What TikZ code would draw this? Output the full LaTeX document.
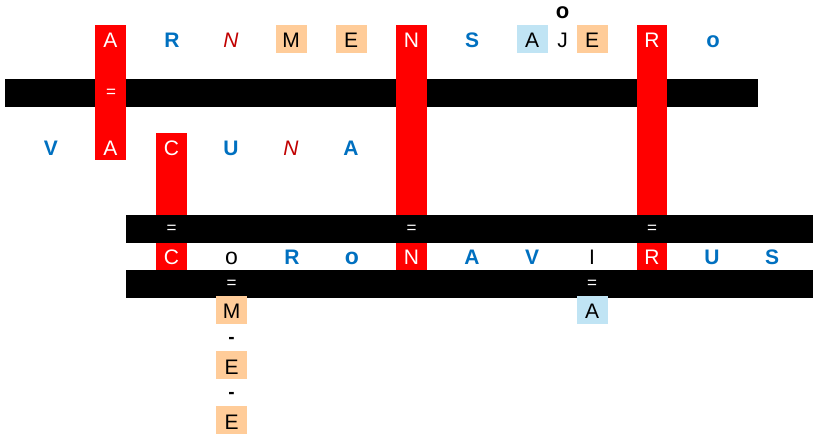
\documentclass[tikz,border=0pt]{standalone}
\usepackage{fontspec}
\setmainfont{Liberation Sans}
\definecolor{cellred}{RGB}{255,0,0}
\definecolor{letterblue}{RGB}{0,112,192}
\definecolor{letterdark}{RGB}{192,0,0}
\definecolor{peach}{RGB}{255,204,153}
\definecolor{paleblue}{RGB}{192,228,244}
\tikzset{
	letter/.style={minimum width=31pt,minimum height=28pt,inner sep=0pt,text height=18pt,text depth=0pt,font=\fontsize{21}{25}\selectfont},
	redletter/.style={letter,text=white},
	blueletter/.style={letter,text=letterblue,font=\fontsize{21}{25}\selectfont\bfseries},
	slantletter/.style={letter,text=letterdark,font=\fontsize{21}{25}\selectfont\itshape},
	peachletter/.style={letter,fill=peach},
	paleletter/.style={letter,fill=paleblue},
	sign/.style={inner sep=0pt,font=\fontsize{17}{19}\selectfont},
	dashsign/.style={inner sep=0pt,font=\fontsize{19}{21}\selectfont\bfseries},
}
\begin{document}
\begin{tikzpicture}[x=1pt,y=-1pt]
	\useasboundingbox (0,0) rectangle (813,435);
	
	%first bar
	\fill[black] (5,79) rectangle (758,107);
	
	%red columns
	\fill[cellred] (95,25) rectangle (126,160);
	\fill[cellred] (156,133) rectangle (187,270);
	\fill[cellred] (396,25) rectangle (427,270);
	\fill[cellred] (637,25) rectangle (667,270);
	
	%lower bars
	\fill[black] (126,215) rectangle (813,243);
	\fill[black] (126,270) rectangle (813,298);
	
	%Top row
	\node[redletter] at (110.5,39) (t1) {A};
	\node[blueletter] at (172,39) (t2) {R};
	\node[slantletter] at (231,39) (t3) {N};
	\node[peachletter] at (291,39) (t4) {M};
	\node[peachletter] at (351,39) (t5) {E};
	\node[redletter] at (411.5,39) (t6) {N};
	\node[blueletter] at (472,39) (t7) {S};
	\node[paleletter] at (532,39) (t8) {A};
	\node[letter] at (562.5,39) (t9) {J};
	\node[letter,font=\fontsize{22}{26}\selectfont\bfseries] at (562.5,10) (t9o) {o};
	\node[peachletter] at (592,39) (t10) {E};
	\node[redletter] at (652,39) (t11) {R};
	\node[blueletter,font=\fontsize{22}{26}\selectfont\bfseries] at (713,39) (t12) {o};
	
	%Second row
	\node[blueletter] at (51,147) (m1) {V};
	\node[redletter] at (110.5,147) (m2) {A};
	\node[redletter] at (171.5,147) (m3) {C};
	\node[blueletter] at (231,147) (m4) {U};
	\node[slantletter] at (291,147) (m5) {N};
	\node[blueletter] at (351,147) (m6) {A};
	
	%Third row
	\node[redletter] at (171.5,256) (b1) {C};
	\node[letter,font=\fontsize{23}{27}\selectfont] at (231.5,256) (b2) {o};
	\node[blueletter] at (292,256) (b3) {R};
	\node[blueletter,font=\fontsize{23}{27}\selectfont\bfseries] at (352,256) (b4) {o};
	\node[redletter] at (411.5,256) (b5) {N};
	\node[blueletter] at (472,256) (b6) {A};
	\node[blueletter] at (532,256) (b7) {V};
	\node[letter] at (592,256) (b8) {I};
	\node[redletter] at (652,256) (b9) {R};
	\node[blueletter] at (712,256) (b10) {U};
	\node[blueletter] at (772,256) (b11) {S};
	
	%equal signs
	\node[sign,text=white] at (111,93) (e1) {=};
	\node[sign,text=white] at (171.5,229) (e2) {=};
	\node[sign,text=white] at (411.5,229) (e3) {=};
	\node[sign,text=white] at (652,229) (e4) {=};
	\node[sign,text=white] at (231.5,284) (e5) {=};
	\node[sign,text=white] at (592,284) (e6) {=};
	
	%hanging letters
	\node[peachletter] at (231.5,310) (d1) {M};
	\node[dashsign] at (231.5,340) (h1) {-};
	\node[peachletter] at (231.5,365) (d2) {E};
	\node[dashsign] at (231.5,395) (h2) {-};
	\node[peachletter] at (231.5,420) (d3) {E};
	\node[paleletter] at (592,310) (d4) {A};
	
\end{tikzpicture}
\end{document}
